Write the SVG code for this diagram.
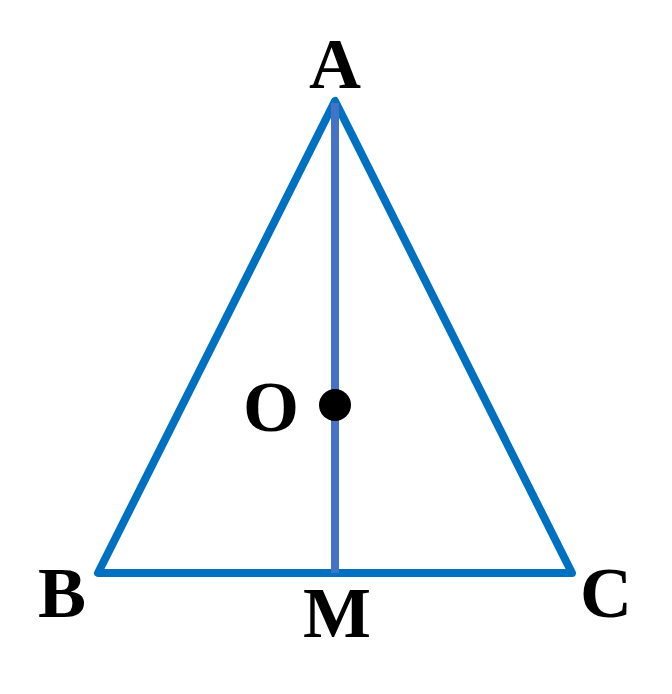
<svg xmlns="http://www.w3.org/2000/svg" width="672" height="694" viewBox="0 0 672 694">
<style>
.lbl{font-family:"Liberation Serif","Times New Roman",serif;font-weight:bold;font-size:72px;fill:#000}
</style>
<rect width="672" height="694" fill="#fff"/>
<g id="connectors">
<polygon id="triangle" points="335,101 98,573 572,573" fill="none" stroke="#0070C0" stroke-width="8" stroke-linejoin="round"/>
<line id="median" x1="335" y1="103" x2="335" y2="573" stroke="#4472C4" stroke-width="8"/>
</g>
<g id="node-A"><text class="lbl" x="335" y="88" text-anchor="middle">A</text></g>
<g id="node-B"><text class="lbl" x="62" y="617" text-anchor="middle">B</text></g>
<g id="node-C"><text class="lbl" x="606" y="617" text-anchor="middle">C</text></g>
<g id="node-M"><text class="lbl" x="337" y="637" text-anchor="middle">M</text></g>
<g id="node-O"><circle cx="335" cy="405" r="16" fill="#000"/><text class="lbl" x="271" y="431" text-anchor="middle">O</text></g>
</svg>
